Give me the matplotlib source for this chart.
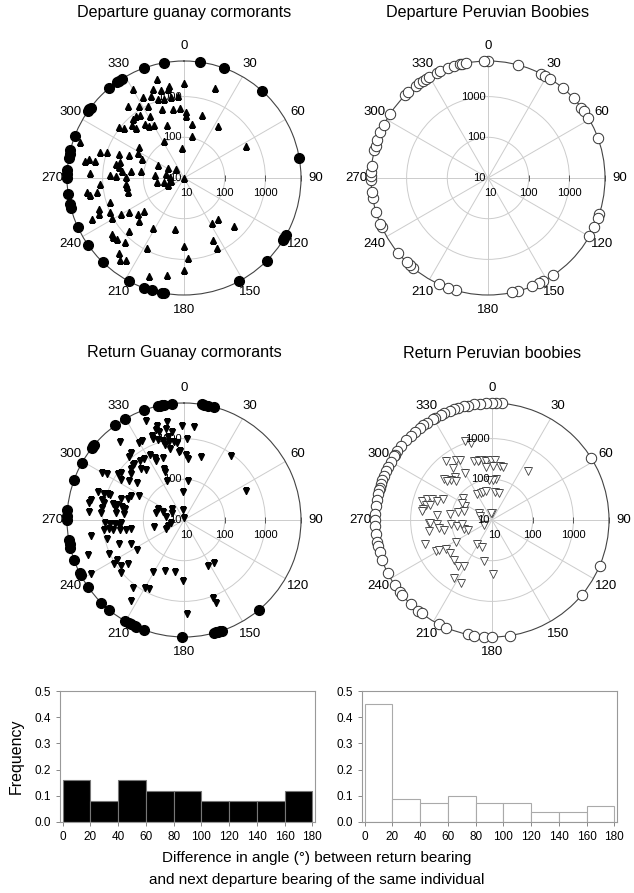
import numpy as np
import matplotlib
matplotlib.use("Agg")
from matplotlib import pyplot as plt

plt.rcParams['font.family'] = ['Liberation Sans', 'DejaVu Sans']

# ---- data: bearings (deg) and distances (log scale, 10 .. outer ring) ----
OUTER = 7500  # birds plotted on the outer ring
RING_TICKS = [100, 1000, OUTER]

dep_gc_ring = [350, 8, 20, 42, 80, 119, 121, 122, 135, 152, 190, 191, 196, 200, 208, 224,
               235, 245, 255, 257, 262, 270, 272, 274, 280, 282, 284, 291, 305, 306, 307,
               320, 325, 326, 328, 340]
dep_gc_bearing = [345, 0, 19, 351, 330, 341, 345, 350, 333, 338, 356, 342, 346, 351, 322, 328,
                  333, 342, 351, 357, 2, 16, 2, 322, 325, 331, 331, 342, 8, 33, 319, 316, 308,
                  310, 316, 324, 326, 289, 287, 289, 281, 281, 280, 290, 293, 305, 298, 332, 11,
                  357, 63, 295, 296, 301, 319, 284, 282, 280, 276, 277, 273, 272, 272, 271, 279,
                  275, 284, 274, 261, 258, 259, 245, 266, 264, 262, 260, 261, 261, 256, 252, 250,
                  247, 246, 245, 240, 238, 232, 230, 226, 241, 226, 232, 230, 228, 223, 212, 190,
                  148, 140, 134, 155, 155, 208, 180, 177, 221, 218, 215, 180, 190, 200, 0]
dep_gc_dist = [3300, 2100, 2150, 1950, 3300, 2100, 1700, 1700, 1700, 1530, 1070, 1080, 1010, 1010,
               1700, 1230, 940, 600, 510, 540, 410, 420, 340, 850, 760, 550, 316, 240, 215, 330,
               810, 670, 1050, 830, 510, 440, 340, 5000, 1410, 1000, 2450, 1700, 2950, 500, 295,
               220, 195, 105, 110, 54, 510, 134, 52, 29, 20, 410, 510, 420, 340, 208, 2040, 645,
               480, 262, 118, 53, 28, 22, 47, 31, 21, 27, 1150, 275, 2600, 2200, 1480, 257, 257,
               810, 1700, 1900, 3000, 1000, 620, 390, 280, 185, 340, 1050, 760, 1780, 1860, 1700,
               1380, 275, 192, 200, 208, 500, 470, 800, 910, 480, 950, 2750, 3700, 2950, 1860,
               2700, 3550, 10]

dep_pb_ring = [0, 358, 15, 27, 29, 32, 40, 47, 53, 55, 59, 70, 108, 110, 115, 120, 146, 152, 154,
               158, 165, 168, 196, 200, 205, 220, 222, 224, 230, 245, 247, 253, 260, 263, 269,
               271, 273, 276, 284, 286, 289, 293, 297, 303, 315, 317, 322, 324, 326, 328, 330,
               334, 336, 340, 343, 346, 347, 349]

ret_gc_ring = [347, 348, 349, 350, 354, 9, 10, 12, 15, 340, 330, 324, 308, 309, 310, 299, 290,
               275, 272, 270, 260, 258, 256, 250, 242, 243, 235, 225, 220, 210, 208, 207, 205,
               204, 200, 181, 165, 164, 163, 162, 161, 140]
ret_gc_bearing = [339, 344, 350, 359, 6, 344, 343, 349, 352, 349, 339, 339, 342, 345, 349, 353,
                  355, 2, 321, 330, 332, 346, 349, 357, 356, 2, 15, 4, 341, 335, 332, 327, 322,
                  319, 323, 318, 317, 314, 307, 320, 323, 335, 339, 300, 301, 305, 311, 6, 336,
                  305, 302, 308, 338, 357, 36, 65, 288, 288, 289, 289, 282, 284, 280, 282, 283,
                  283, 288, 290, 294, 298, 278, 281, 282, 281, 275, 275, 276, 276, 268, 267, 267,
                  266, 267, 263, 263, 262, 261, 260, 260, 293, 284, 290, 298, 313, 281, 256, 243,
                  249, 255, 356, 0, 260, 256, 250, 246, 238, 250, 246, 238, 239, 232, 234, 240,
                  230, 211, 201, 190, 181, 217, 210, 207, 152, 145, 160, 159, 213, 178]
ret_gc_dist = [4070, 2570, 2820, 2040, 2040, 1780, 2100, 1860, 1550, 1200, 1660, 1350, 1150, 1020,
               910, 830, 810, 1000, 3020, 1550, 1550, 780, 600, 510, 470, 400, 400, 316, 400, 480,
               630, 620, 1260, 1120, 645, 690, 690, 645, 850, 440, 355, 410, 224, 2150, 1580, 930,
               530, 93, 112, 455, 680, 300, 182, 48, 910, 480, 1660, 1200, 950, 830, 2150, 1200,
               2400, 1050, 630, 480, 430, 300, 270, 175, 1100, 520, 370, 300, 2200, 1100, 470,
               300, 860, 645, 500, 410, 360, 700, 980, 570, 400, 288, 212, 49, 50, 35, 22, 25, 28,
               56, 32, 26, 21, 18, 11, 2040, 890, 500, 270, 236, 3230, 1070, 1080, 830, 550, 810,
               4300, 1070, 316, 215, 204, 316, 1230, 860, 810, 190, 195, 1120, 1550, 2380, 2080]

ret_pb_ring = [5, 2, 0, 357, 354, 351, 348, 346, 343, 341, 339, 336, 334, 331, 330, 326, 324, 322,
               319, 316, 313, 309, 306, 304, 303, 300, 297, 295, 292, 290, 288, 286, 285, 283,
               280, 277, 273, 270, 267, 263, 259, 257, 254, 250, 243, 236, 232, 230, 224, 219,
               217, 207, 203, 192, 189, 184, 180, 171, 130, 113, 58]
ret_pb_bearing = [341, 345, 348, 343, 347, 351, 354, 359, 3, 8, 12, 1, 353, 329, 332, 322, 323,
                  330, 319, 314, 317, 311, 311, 5, 2, 356, 36, 330, 337, 343, 348, 7, 15, 285,
                  288, 289, 289, 293, 283, 284, 279, 307, 0, 297, 300, 277, 275, 278, 284, 287,
                  298, 351, 287, 267, 267, 266, 261, 265, 260, 253, 248, 262, 237, 250, 241, 240,
                  238, 232, 238, 212, 201, 191, 223, 217, 211, 179, 213, 206, 258, 260]
ret_pb_dist = [1120, 890, 330, 325, 316, 305, 295, 305, 305, 214, 214, 208, 200, 525, 457, 676,
               390, 209, 250, 250, 203, 355, 286, 104, 94, 94, 316, 54, 52, 52, 52, 50, 50, 600,
               470, 355, 262, 205, 470, 365, 525, 76, 15, 57, 72, 550, 224, 112, 72, 52, 23, 15,
               20, 355, 340, 224, 205, 104, 73, 52, 42, 55, 17, 550, 385, 310, 210, 205, 108, 50,
               52, 104, 227, 254, 214, 218, 515, 515, 163, 375]

# histogram of angle difference (return vs next departure)
bin_left = [0, 20, 40, 60, 80, 100, 120, 140, 160]
gc_freq = [0.16, 0.08, 0.16, 0.12, 0.12, 0.08, 0.08, 0.08, 0.12]
pb_freq = [0.45, 0.087, 0.074, 0.10, 0.074, 0.074, 0.037, 0.037, 0.061]

W, H = 634, 893
fig = plt.figure(figsize=(W / 100, H / 100), dpi=100)

R = 117  # outer ring radius in pixels


def polar_axes(cx, cy, title, ty):
    ax = fig.add_axes([(cx - R) / W, 1 - (cy + R) / H, 2 * R / W, 2 * R / H], projection='polar')
    ax.set_theta_zero_location('N')
    ax.set_theta_direction(-1)
    ax.set_rscale('log')
    ax.set_rlim(10, OUTER)
    ax.set_thetagrids(range(0, 360, 30), [str(a) for a in range(0, 360, 30)], fontsize=9.5)
    ax.set_rgrids([100, 1000], labels=['', ''])
    ax.grid(True, color='#cccccc', lw=0.7)
    ax.spines['polar'].set_color('#444444')
    ax.spines['polar'].set_linewidth(0.8)
    ax.tick_params(axis='x', pad=0)
    ax.set_axisbelow(True)
    # small tick marks on the 90 degree axis
    ax.plot(np.full(len(RING_TICKS), np.pi / 2), RING_TICKS, ls='none', marker='|', ms=5,
            mew=0.7, color='#555555', clip_on=False, zorder=1)
    for v, s in [(10, '10'), (100, '100'), (1000, '1000')]:
        ax.annotate(s, xy=(0, v), xytext=(-2, 0), textcoords='offset points',
                    ha='right', va='center', fontsize=8)
        ax.annotate(s, xy=(np.pi / 2, v), xytext=(0 if v > 10 else 2, -11),
                    textcoords='offset points', ha='center', va='center', fontsize=8)
    fig.text(cx / W, 1 - ty / H, title, ha='center', va='center', fontsize=11.6)
    return ax


def ring(ax, bearings, **kw):
    th = np.deg2rad(bearings)
    ax.plot(th, np.full(len(th), OUTER), ls='none', marker='o', clip_on=False, zorder=5, **kw)


ax1 = polar_axes(184, 178, 'Departure guanay cormorants', 13)
ax1.plot(np.deg2rad(dep_gc_bearing), dep_gc_dist, ls='none', marker='^', ms=5, color='black')
ring(ax1, dep_gc_ring, ms=7, color='black')

ax2 = polar_axes(488, 178, 'Departure Peruvian Boobies', 13)
ring(ax2, dep_pb_ring, ms=7.5, mfc='white', mec='#333333', mew=0.7)

ax3 = polar_axes(184, 520, 'Return Guanay cormorants', 353)
ax3.plot(np.deg2rad(ret_gc_bearing), ret_gc_dist, ls='none', marker='v', ms=5, color='black')
ring(ax3, ret_gc_ring, ms=7, color='black')

ax4 = polar_axes(492, 520, 'Return Peruvian boobies', 353)
ax4.plot(np.deg2rad(ret_pb_bearing), ret_pb_dist, ls='none', marker='v', ms=5.5,
         mfc='white', mec='#444444', mew=0.6)
ring(ax4, ret_pb_ring, ms=7.5, mfc='white', mec='#333333', mew=0.7)


def hist_axes(x0, freq, fc, ec):
    ax = fig.add_axes([x0 / W, 1 - 822 / H, 255 / W, 131 / H])
    ax.bar(bin_left, freq, width=20, align='edge', color=fc, edgecolor=ec, linewidth=0.8)
    ax.set_xlim(-2, 182)
    ax.set_ylim(0, 0.5)
    ax.set_xticks(range(0, 181, 20))
    ax.set_yticks(np.arange(0, 0.51, 0.1))
    ax.set_yticklabels(['%.1f' % v for v in np.arange(0, 0.51, 0.1)])
    ax.tick_params(labelsize=8.5, length=3, color='#888888', width=0.7)
    for sp in ax.spines.values():
        sp.set_color('#999999')
        sp.set_linewidth(0.8)
    return ax


h1 = hist_axes(60, gc_freq, 'black', '#777777')
h1.set_ylabel('Frequency', fontsize=11.5, labelpad=8)
h2 = hist_axes(362, pb_freq, 'white', '#aaaaaa')

fig.text(0.5, 1 - 858 / H, 'Difference in angle (\u00b0) between return bearing',
         ha='center', va='center', fontsize=11)
fig.text(0.5, 1 - 880 / H, 'and next departure bearing of the same individual',
         ha='center', va='center', fontsize=11)

fig.savefig('out.png', dpi=100)
